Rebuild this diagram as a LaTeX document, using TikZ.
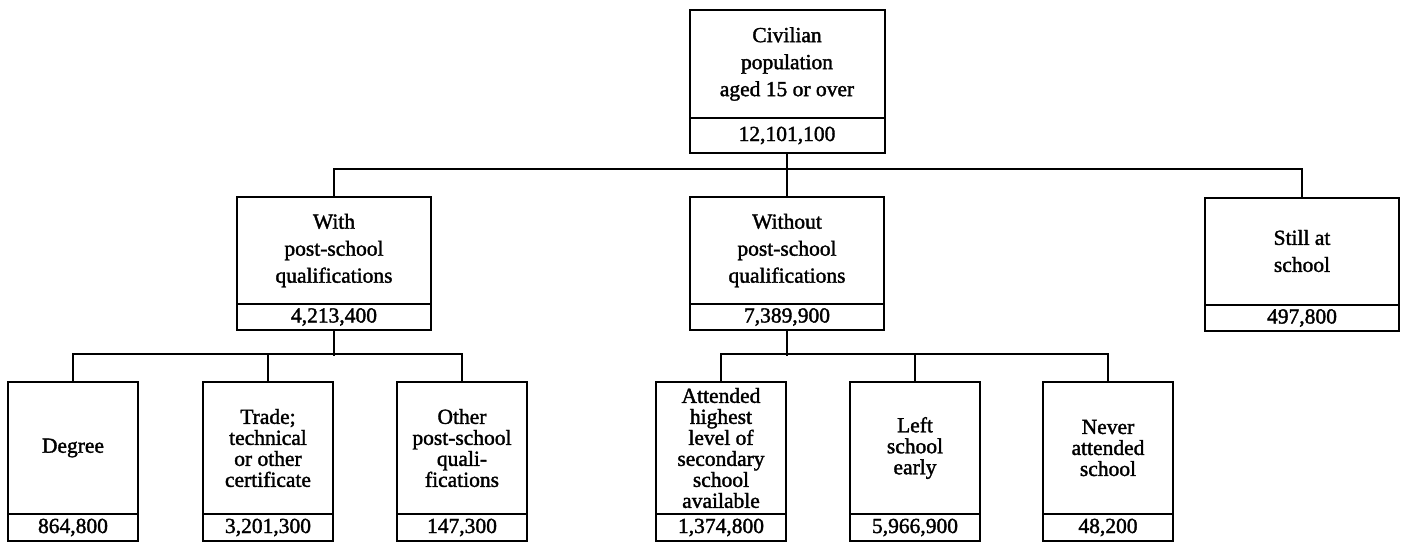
\documentclass[tikz,border=0pt]{standalone}
\usepackage{fontspec}
\setmainfont{Liberation Serif}[RawFeature={embolden=1.6}]
\begin{document}
\begin{tikzpicture}[x=1pt, y=-1pt, line width=2pt,
    box/.style={draw, rectangle, align=center, inner sep=0pt, font=\fontsize{21.5}{27}\selectfont},
    wide/.style={box, minimum width=194pt},
    narrow/.style={box, minimum width=130pt, font=\fontsize{21.5}{21}\selectfont}]
    \useasboundingbox (0,0) rectangle (1403,542);
    % Topo
    \node[box, minimum width=195pt, minimum height=108pt] (civ) at (787,64) {Civilian\\population\\aged 15 or over};
    \node[box, minimum width=195pt, minimum height=35pt] (civn) at (787,135.5) {12,101,100};

    % Segundo nivel
    \node[wide, minimum height=107pt] (with) at (334,250.5) {With\\post-school\\qualifications};
    \node[wide, minimum height=26pt] (withn) at (334,317) {4,213,400};
    \node[wide, minimum height=107pt] (without) at (787,250.5) {Without\\post-school\\qualifications};
    \node[wide, minimum height=26pt] (withoutn) at (787,317) {7,389,900};
    \node[wide, minimum height=107pt] (still) at (1302,251) {Still at\\school};
    \node[wide, minimum height=26pt] (stilln) at (1302,318) {497,800};

    % Terceiro nivel
    \node[narrow, minimum height=132pt] (deg) at (73,448) {Degree};
    \node[narrow, minimum height=27pt] (degn) at (73,527.5) {864,800};
    \node[narrow, minimum height=132pt] (trd) at (268,448) {Trade;\\technical\\or other\\certificate};
    \node[narrow, minimum height=27pt] (trdn) at (268,527.5) {3,201,300};
    \node[narrow, minimum height=132pt] (oth) at (462,448) {Other\\post-school\\quali-\\fications};
    \node[narrow, minimum height=27pt] (othn) at (462,527.5) {147,300};
    \node[narrow, minimum height=132pt] (att) at (721,448) {Attended\\highest\\level of\\secondary\\school\\available};
    \node[narrow, minimum height=27pt] (attn) at (721,527.5) {1,374,800};
    \node[narrow, minimum height=132pt] (left) at (915,448) {Left\\school\\early};
    \node[narrow, minimum height=27pt] (leftn) at (915,527.5) {5,966,900};
    \node[narrow, minimum height=132pt] (never) at (1108,448) {Never\\attended\\school};
    \node[narrow, minimum height=27pt] (nevern) at (1108,527.5) {48,200};

    % Ligacoes
    \draw (civn.south) -- (without.north);
    \draw (with.north) -- ++(0,-27) -| (still.north);
    \draw (withn.south) -- ++(0,25);
    \draw (deg.north) -- ++(0,-27) -| (oth.north);
    \draw (trd.north) -- ++(0,-27);
    \draw (withoutn.south) -- ++(0,25);
    \draw (att.north) -- ++(0,-27) -| (never.north);
    \draw (left.north) -- ++(0,-27);
\end{tikzpicture}
\end{document}
